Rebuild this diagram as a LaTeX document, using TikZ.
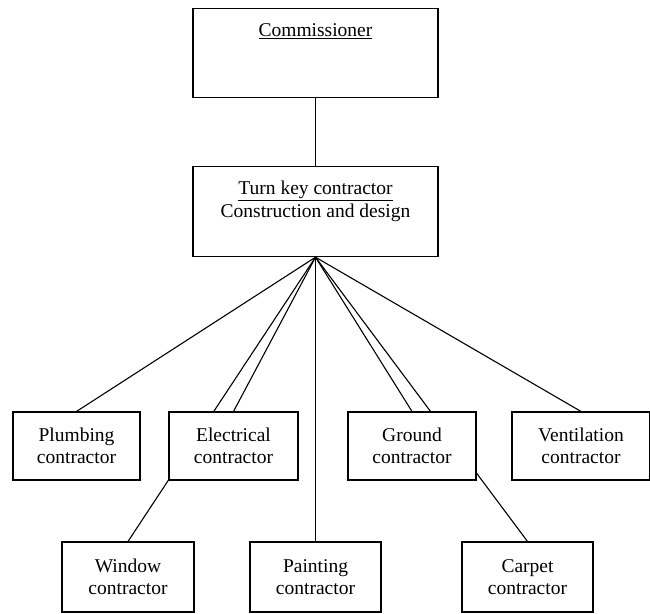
\documentclass[tikz,border=0pt]{standalone}
\usepackage{fontspec}
\setmainfont{Liberation Serif}
\usetikzlibrary{positioning,backgrounds}

\begin{document}
\begin{tikzpicture}[
    x=1pt, y=-1pt,
    box/.style={draw, fill=white, line width=1.1pt, align=center, font=\fontsize{19.5}{22.5}\selectfont},
    toprow/.style={box, minimum height=68pt},
    lowrow/.style={box, minimum height=70pt},
    link/.style={line width=1.1pt}
]
    \useasboundingbox (0,0) rectangle (650,613);

    \node[box, anchor=north, minimum width=245pt, inner ysep=0pt, text height=28pt, text depth=61pt] (comm) at (315.5,8) {\underline{Commissioner}};
    \node[box, below=68pt of comm, minimum width=245pt, inner ysep=0pt, text height=50.5pt, text depth=39.5pt] (turnkey) {\underline{Turn key contractor}\\Construction and design};

    % first row of contractors
    \node[toprow, minimum width=127pt] (plumb) at (76.5,446) {Plumbing\\contractor};
    \node[toprow, minimum width=129pt] (elec) at (233.5,446) {Electrical\\contractor};
    \node[toprow, minimum width=128pt] (ground) at (412,446) {Ground\\contractor};
    \node[toprow, minimum width=138pt] (vent) at (581,446) {Ventilation\\contractor};

    % second row
    \node[lowrow, minimum width=132pt] (window) at (128,577) {Window\\contractor};
    \node[lowrow, minimum width=131pt] (paint) at (315.5,577) {Painting\\contractor};
    \node[lowrow, minimum width=131pt] (carpet) at (527.5,577) {Carpet\\contractor};

    \begin{scope}[on background layer]
        \draw[link] (comm) -- (turnkey);
        \foreach \sub in {plumb,elec,ground,vent,window,paint,carpet}
            \draw[link] (turnkey.south) -- (\sub.north);
    \end{scope}
\end{tikzpicture}
\end{document}
